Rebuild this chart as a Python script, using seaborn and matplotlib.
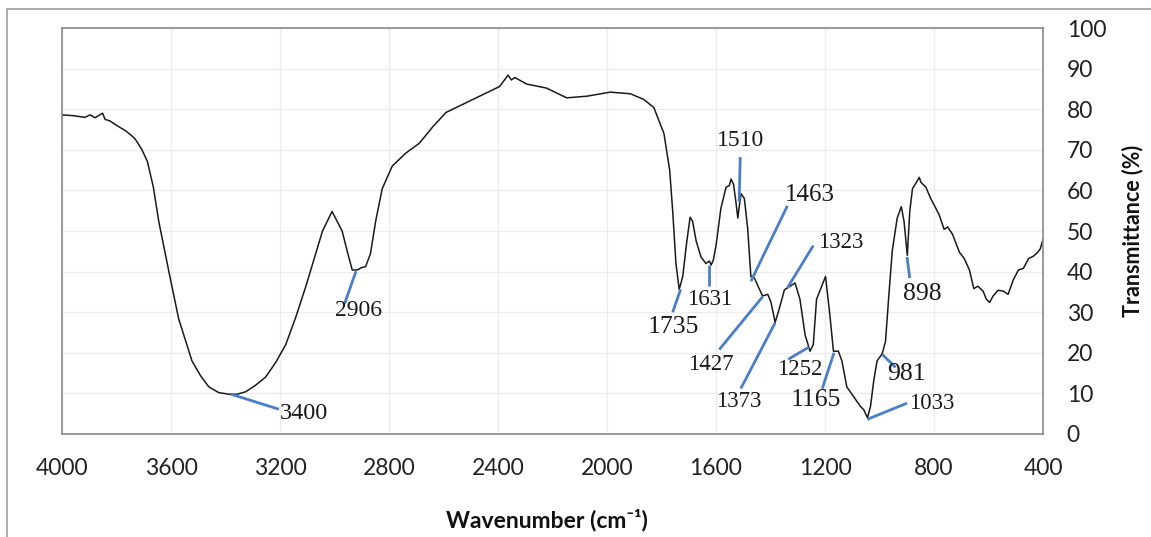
import matplotlib
matplotlib.use("Agg")
import matplotlib.pyplot as plt
import seaborn as sns
import pandas as pd
from matplotlib.lines import Line2D

# ---------------- data ----------------
wavenumber = [4000, 3995, 3959, 3916, 3897, 3879, 3851, 3842, 3824, 3806, 3787, 3769, 3750,
              3732, 3708, 3687, 3665, 3645, 3609, 3572, 3523, 3492, 3461, 3425, 3388, 3357,
              3326, 3290, 3253, 3216, 3179, 3142, 3105, 3044, 3009, 2972, 2954, 2935, 2917,
              2900, 2886, 2868, 2849, 2825, 2788,
              2738, 2689, 2640, 2591, 2529, 2468, 2394, 2363, 2351, 2338, 2295, 2222, 2148,
              2074, 1988, 1914, 1865, 1828, 1791, 1770, 1759, 1747, 1735, 1722, 1708, 1695,
              1686, 1673, 1655, 1637, 1624, 1618, 1610, 1600, 1582, 1563, 1551, 1545, 1536,
              1527, 1520, 1514, 1508, 1496, 1484, 1472, 1459, 1443, 1429, 1410, 1398, 1383,
              1368, 1349, 1328, 1310, 1292, 1273, 1255, 1243, 1231, 1212, 1198, 1182, 1169,
              1151, 1138, 1120, 1095, 1070, 1058, 1044, 1033, 1021, 1009, 990, 978, 965, 953,
              935, 920, 910, 898, 889, 879, 854, 848, 830, 812, 781, 763, 750, 732, 707, 689,
              670, 654, 639, 620, 608, 596, 583, 565, 546, 528, 509, 490, 472, 453, 435, 419,
              410, 400]
transmittance = [78.4, 78.6, 78.4, 78.0, 78.6, 77.9, 79.0, 77.5, 77.1, 76.3, 75.5, 74.8, 73.8,
                 72.7, 70.2, 67.2, 60.9, 52.4, 40.4, 28.4, 18.0, 14.4, 11.6, 10.2, 9.8, 9.8,
                 10.4, 12.0, 14.0, 17.6, 22.0, 28.8, 36.4, 50.0, 54.8, 50.0, 45.2, 40.4, 40.4,
                 41.0, 41.2, 44.4, 52.4, 60.4, 66.0,
                 69.2, 71.6, 75.6, 79.2, 81.2, 83.2, 85.6, 88.4, 87.2, 87.8, 86.2, 85.2, 82.8,
                 83.2, 84.2, 83.8, 82.4, 80.4, 74.0, 65.0, 55.0, 42.0, 35.6, 38.8, 47.0, 53.4,
                 52.4, 47.6, 43.6, 42.0, 42.6, 41.6, 42.8, 46.4, 55.6, 60.8, 61.2, 62.8, 61.6,
                 57.2, 53.2, 56.4, 59.2, 58.0, 50.8, 38.8, 38.4, 36.0, 34.0, 34.4, 32.4, 27.5,
                 30.8, 35.5, 36.4, 37.2, 33.2, 24.4, 20.4, 22.0, 33.2, 36.4, 38.8, 29.2, 20.4,
                 20.4, 18.0, 11.6, 9.2, 6.8, 6.0, 4.0, 6.8, 13.2, 18.0, 19.8, 22.8, 34.8, 45.2,
                 53.2, 56.0, 52.4, 44.0, 54.8, 60.4, 63.2, 62.0, 60.8, 58.0, 54.0, 50.4, 51.0,
                 49.2, 44.8, 43.2, 40.4, 35.8, 36.4, 35.2, 33.2, 32.4, 34.0, 35.4, 35.2, 34.4,
                 38.0, 40.4, 40.8, 43.2, 43.8, 44.8, 45.6, 48.0]

# peak labels: text, leader line start (on curve), leader line end, text centre
peak_labels = ["3400", "2906", "1735", "1631", "1510", "1463", "1427", "1373", "1323",
               "1252", "1165", "1033", "981", "898"]
line_x0 = [3380, 2921, 1730, 1624, 1515, 1472, 1429, 1383, 1338, 1259, 1167, 1045, 990, 899]
line_y0 = [9.8, 40.1, 35.6, 41.6, 57.2, 37.6, 33.8, 27.4, 36.0, 21.4, 20.0, 3.6, 19.6, 43.6]
line_x1 = [3204, 2963, 1759, 1624, 1511, 1338, 1588, 1509, 1243, 1335, 1210, 899, 941, 889]
line_y1 = [6.1, 32.1, 30.0, 36.4, 68.2, 56.2, 20.8, 11.2, 46.4, 18.4, 11.2, 7.6, 16.4, 38.4]
text_x = [3112, 2911, 1756, 1622, 1509, 1255, 1618, 1515, 1143, 1291, 1234, 810, 901, 844]
text_y = [5.1, 30.4, 26.4, 33.2, 72.4, 58.8, 17.2, 8.0, 47.2, 16.0, 8.4, 7.6, 14.8, 34.4]
label_sizes = [17.5, 17, 18.5, 16.5, 17, 18, 16.5, 16.5, 16.5, 16.5, 18.5, 16.5, 18.5, 18.5]

x_ticks = [4000, 3600, 3200, 2800, 2400, 2000, 1600, 1200, 800, 400]
y_ticks = [0, 10, 20, 30, 40, 50, 60, 70, 80, 90, 100]

df = pd.DataFrame({"Wavenumber": wavenumber, "Transmittance": transmittance})

# ---------------- plot ----------------
sns.set_theme(style="white")
plt.rcParams["font.family"] = ["Lato", "DejaVu Sans"]

fig = plt.figure(figsize=(11.51, 5.37), dpi=100)
ax = fig.add_axes([62 / 1151, 1 - 434 / 537, (1043 - 62) / 1151, (434 - 28) / 537])

ax.grid(True, color="#ececec", linewidth=1.0)
ax.set_axisbelow(True)

sns.lineplot(data=df, x="Wavenumber", y="Transmittance", ax=ax, color="#1a1a1a",
             linewidth=1.1, estimator=None, sort=False)

for lab, x0, y0, x1, y1, tx, ty, fs in zip(peak_labels, line_x0, line_y0, line_x1, line_y1,
                                           text_x, text_y, label_sizes):
    ax.plot([x0, x1], [y0, y1], color="#4a7ec8", linewidth=2.0, solid_capstyle="butt")
    ax.text(tx, ty, lab, ha="center", va="center", fontsize=fs,
            family=["Liberation Serif", "DejaVu Serif"], color="#1a1a1a")

ax.set_xlim(4000, 400)
ax.set_ylim(0, 100)
ax.set_xticks(x_ticks)
ax.set_xticklabels([str(t) for t in x_ticks])
ax.set_yticks(y_ticks)
ax.set_yticklabels([str(t) for t in y_ticks])
ax.yaxis.tick_right()
ax.tick_params(axis="both", length=0, labelsize=16.5, colors="#222222")
ax.tick_params(axis="x", pad=17)
ax.tick_params(axis="y", pad=17)
for lbl in ax.get_yticklabels():
    lbl.set_horizontalalignment("left")

for sp in ax.spines.values():
    sp.set_color("#8a8a8a")
    sp.set_linewidth(1.2)

ax.set_xlabel("Wavenumber (cm\u207b\u00b9)", fontsize=16.5, fontweight="bold", color="#111111")
ax.xaxis.set_label_coords(0.494, -0.185)
ax.set_ylabel("Transmittance (%)", fontsize=15.5, fontweight="bold", color="#111111")
ax.yaxis.set_label_position("right")
ax.yaxis.set_label_coords(1.080, 0.5)

# outer chart frame (left and top edges visible)
fig.add_artist(Line2D([7 / 1151, 7 / 1151], [0, 1 - 9 / 537], transform=fig.transFigure,
                      color="#a6a6a6", linewidth=1.3))
fig.add_artist(Line2D([7 / 1151, 1], [1 - 9 / 537, 1 - 9 / 537], transform=fig.transFigure,
                      color="#a6a6a6", linewidth=1.3))

fig.savefig("out.png", dpi=100)
